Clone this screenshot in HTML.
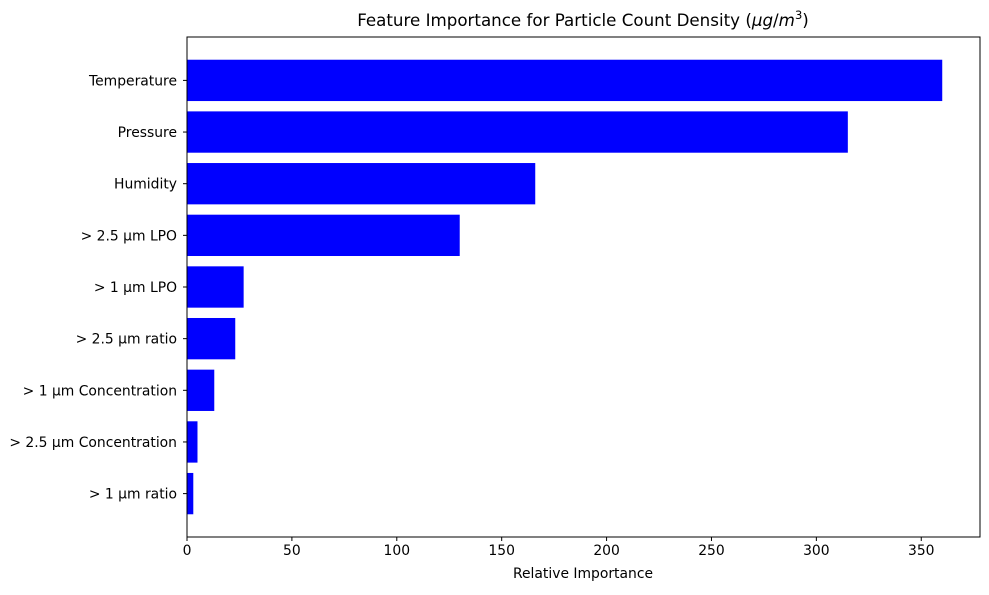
<!DOCTYPE html>
<html><head><meta charset="utf-8"><style>
body{margin:0;background:#fff;}
svg text{font-family:"DejaVu Sans","Liberation Sans",sans-serif;fill:#000;}
</style></head><body>
<svg id="chart" width="989" height="590" xmlns="http://www.w3.org/2000/svg">
<text x="583" y="26" font-size="16.7" text-anchor="middle">Feature Importance for Particle Count Density (<tspan font-style="italic">μg</tspan>/<tspan font-style="italic">m</tspan><tspan font-size="11.5" dy="-7">3</tspan><tspan dy="7">)</tspan></text>
<text x="583" y="578" font-size="13.9" text-anchor="middle">Relative Importance</text>
<g id="bars"></g>
<g id="xticks"></g>
<g id="yticks"></g>
<rect x="187" y="37" width="793" height="500" fill="none" stroke="#000" stroke-width="1"/>
</svg>
<script>
const categories = ["Temperature","Pressure","Humidity","> 2.5 µm LPO","> 1 µm LPO","> 2.5 µm ratio","> 1 µm Concentration","> 2.5 µm Concentration","> 1 µm ratio"];
const values = [360,315,166,130,27,23,13,5,3];
const xTickValues = [0,50,100,150,200,250,300,350];

const L=187,R=980,T=37,B=537;
const xMax=Math.max(...values)*1.05;
const x=v=>L+(v/xMax)*(R-L);
const n=categories.length;
const span=(n-1+0.8)*1.1;
const y0=-0.4-(n-1+0.8)*0.05;
const y=i=>T+((i-y0)/span)*(B-T);
const unit=(B-T)/span;
const NS="http://www.w3.org/2000/svg";
const bars=document.getElementById('bars'),xt=document.getElementById('xticks'),yt=document.getElementById('yticks');
categories.forEach((c,i)=>{
  const r=document.createElementNS(NS,'rect');
  r.setAttribute('x',x(0));r.setAttribute('y',y(i)-0.4*unit);
  r.setAttribute('width',x(values[i])-x(0));r.setAttribute('height',0.8*unit);
  r.setAttribute('fill','#0000ff');
  
  
  bars.appendChild(r);
  const ln=document.createElementNS(NS,'line');
  ln.setAttribute('x1',L-4);ln.setAttribute('x2',L);ln.setAttribute('y1',y(i));ln.setAttribute('y2',y(i));ln.setAttribute('stroke','#000');
  yt.appendChild(ln);
  const t=document.createElementNS(NS,'text');
  t.setAttribute('x',L-10);t.setAttribute('y',y(i)+5);t.setAttribute('font-size','13.9');t.setAttribute('text-anchor','end');
  t.textContent=c;
  
  
  yt.appendChild(t);
});
xTickValues.forEach(v=>{
  const ln=document.createElementNS(NS,'line');
  ln.setAttribute('x1',x(v));ln.setAttribute('x2',x(v));ln.setAttribute('y1',B);ln.setAttribute('y2',B+4);ln.setAttribute('stroke','#000');
  xt.appendChild(ln);
  const t=document.createElementNS(NS,'text');
  t.setAttribute('x',x(v));t.setAttribute('y',B+18);t.setAttribute('font-size','13.9');t.setAttribute('text-anchor','middle');
  t.textContent=v;
  
  
  xt.appendChild(t);
});
</script>
</body></html>
